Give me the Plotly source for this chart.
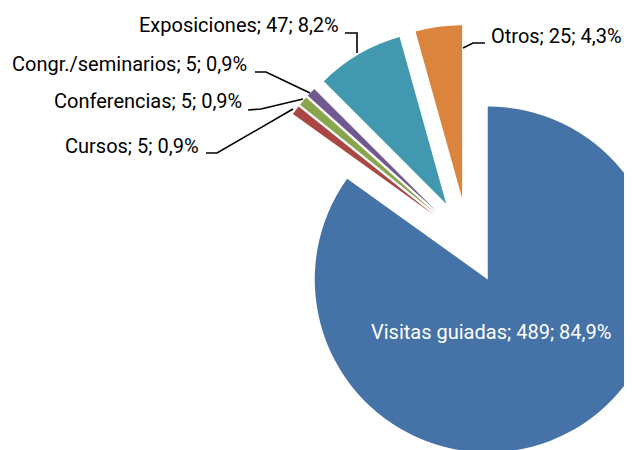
import plotly.graph_objects as go

# ---- data ----
categories = ["Visitas guiadas", "Cursos", "Conferencias", "Congr./seminarios", "Exposiciones", "Otros"]
values = [489, 5, 5, 5, 47, 25]
colors = ["#4572A7", "#AA4643", "#89A54E", "#71588F", "#4198AF", "#DB843D"]

total = sum(values)
def label_text(i):
    pct = f"{100 * values[i] / total:.1f}".replace(".", ",")
    return f"{categories[i]}; {values[i]}; {pct}%"

# ---- canvas (pixel helper for labels / leader lines; page has an 8px body margin) ----
OFF = 8
W, H = 677, 450
def px(x):
    return (x - OFF) / W
def py(y):
    return 1 - (y - OFF) / H

FONT = "Roboto, sans-serif"
FS = 20

fig = go.Figure()
fig.add_trace(go.Pie(
    labels=categories,
    values=values,
    sort=False,
    direction="clockwise",
    rotation=0,
    pull=0.25,
    marker=dict(colors=colors, line=dict(width=0)),
    textinfo="none",
    hoverinfo="label+value+percent",
    showlegend=False,
    domain=dict(x=[px(251.75), px(684.25)], y=[max(0, py(457.25)), py(24.75)]),
))

# label placements (screen pixels): (index, x, y, anchor, color)
placements = [
    (0, 491, 332, "center", "white"),
    (1, 201, 146, "right", "black"),
    (2, 244, 101, "right", "black"),
    (3, 249, 64, "right", "black"),
    (4, 341, 25, "right", "black"),
    (5, 624, 36, "right", "black"),
]
for i, x, y, anc, col in placements:
    fig.add_annotation(
        x=px(x), y=py(y), xref="paper", yref="paper",
        text=label_text(i), showarrow=False,
        xanchor=anc, yanchor="middle",
        font=dict(family=FONT, size=FS, color=col),
    )

leaders = [
    [(206, 153), (217, 153), (293, 109)],
    [(248, 110), (261, 109), (303, 99)],
    [(255, 72), (266, 72), (310, 93)],
    [(345, 33), (357, 33), (357, 53)],
    [(463, 48), (473, 43), (485, 43)],
]
for pts in leaders:
    path = "M " + " L ".join(f"{px(a):.5f},{py(b):.5f}" for a, b in pts)
    fig.add_shape(type="path", path=path, xref="paper", yref="paper",
                  line=dict(color="black", width=1.6))

fig.update_layout(
    width=W, height=H,
    margin=dict(l=0, r=0, t=0, b=0),
    paper_bgcolor="white",
    plot_bgcolor="white",
)

fig.write_html("out.html")
